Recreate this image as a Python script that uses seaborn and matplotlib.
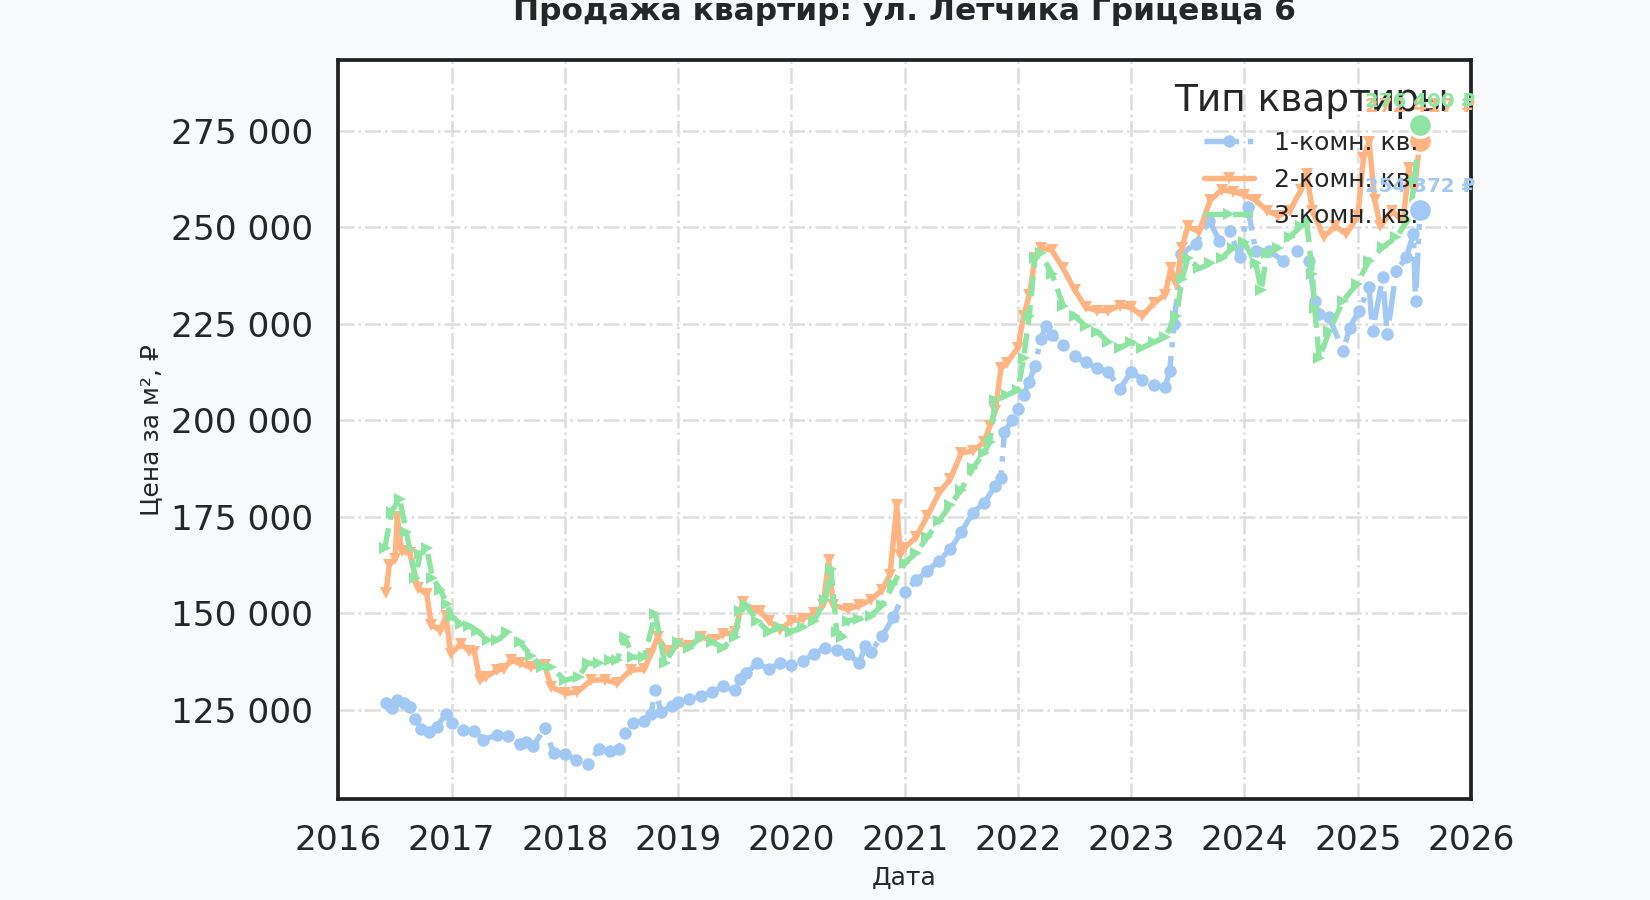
import pandas as pd
import numpy as np
import matplotlib.pyplot as plt
import matplotlib.dates as mdates
from matplotlib.ticker import FuncFormatter
import seaborn as sns

# values (decimal year, price per m2)
one_room_t = [2016.42, 2016.47, 2016.52, 2016.58, 2016.63, 2016.68, 2016.73, 2016.8, 2016.87, 2016.95,
              2017.0, 2017.1, 2017.2, 2017.28, 2017.4, 2017.5, 2017.6, 2017.66, 2017.72, 2017.82,
              2017.9, 2018.0, 2018.1, 2018.2, 2018.3, 2018.4, 2018.48, 2018.53, 2018.6, 2018.7,
              2018.76, 2018.8, 2018.85, 2018.95, 2019.0, 2019.1, 2019.2, 2019.3, 2019.4, 2019.5,
              2019.55, 2019.6, 2019.7, 2019.8, 2019.9, 2020.0, 2020.1, 2020.2, 2020.3, 2020.4,
              2020.5, 2020.6, 2020.65, 2020.7, 2020.8, 2020.9, 2021.0, 2021.1, 2021.2, 2021.3,
              2021.4, 2021.5, 2021.6, 2021.7, 2021.8, 2021.85, 2021.88, 2021.95, 2022.0, 2022.05,
              2022.1, 2022.15, 2022.2, 2022.25, 2022.3, 2022.4, 2022.5, 2022.6, 2022.7, 2022.8,
              2022.9, 2023.0, 2023.1, 2023.2, 2023.3, 2023.34, 2023.38, 2023.44, 2023.57, 2023.69,
              2023.78, 2023.87, 2023.96, 2024.03, 2024.1, 2024.22, 2024.34, 2024.46, 2024.57, 2024.62,
              2024.66, 2024.75, 2024.87, 2024.93, 2025.01, 2025.1, 2025.13, 2025.22, 2025.26, 2025.34,
              2025.43, 2025.49, 2025.51, 2025.55]
one_room = [126600, 125500, 127500, 126800, 125800, 122500, 120000, 119300, 120600, 124000,
            121500, 119800, 119500, 117200, 118500, 118200, 116000, 116500, 115500, 120200,
            113800, 113500, 112000, 111000, 114700, 114200, 114700, 119000, 121500, 122000,
            124000, 130000, 124500, 126000, 127000, 127800, 128500, 129500, 131000, 130000,
            133000, 134500, 137000, 135500, 137000, 136500, 137500, 139500, 141000, 140500,
            139500, 137000, 141500, 140000, 144000, 149000, 155500, 158500, 161000, 163500,
            166500, 171000, 176000, 178500, 183000, 185000, 197000, 200000, 203000, 206500,
            210000, 214000, 221000, 224500, 222000, 219500, 216500, 215000, 213500, 212500,
            208000, 212500, 210500, 209000, 208500, 212700, 224800, 243000, 245700, 251700,
            246500, 249100, 242200, 255200, 243900, 243900, 241300, 243900, 241300, 230900,
            227400, 226600, 217900, 224000, 228300, 234400, 223100, 237000, 222200, 238700,
            242200, 248300, 230900, 254372]

two_room_t = [2016.42, 2016.45, 2016.5, 2016.52, 2016.56, 2016.63, 2016.7, 2016.78, 2016.82, 2016.9,
              2016.95, 2016.99, 2017.08, 2017.15, 2017.2, 2017.25, 2017.3, 2017.4, 2017.46, 2017.52,
              2017.6, 2017.7, 2017.82, 2017.88, 2018.0, 2018.11, 2018.23, 2018.35, 2018.46, 2018.58,
              2018.7, 2018.76, 2018.82, 2018.9, 2019.0, 2019.1, 2019.2, 2019.3, 2019.4, 2019.5,
              2019.57, 2019.65, 2019.72, 2019.8, 2019.9, 2020.0, 2020.1, 2020.2, 2020.28, 2020.33,
              2020.37, 2020.5, 2020.6, 2020.7, 2020.8, 2020.87, 2020.93, 2020.96, 2021.0, 2021.1,
              2021.2, 2021.3, 2021.4, 2021.5, 2021.6, 2021.7, 2021.75, 2021.8, 2021.85, 2021.9,
              2022.0, 2022.05, 2022.1, 2022.15, 2022.2, 2022.3, 2022.4, 2022.5, 2022.6, 2022.7,
              2022.8, 2022.9, 2023.0, 2023.1, 2023.2, 2023.3, 2023.35, 2023.4, 2023.45, 2023.5,
              2023.6, 2023.7, 2023.8, 2023.9, 2024.0, 2024.1, 2024.2, 2024.3, 2024.4, 2024.5,
              2024.55, 2024.6, 2024.7, 2024.8, 2024.9, 2025.0, 2025.05, 2025.1, 2025.15, 2025.2,
              2025.3, 2025.4, 2025.45, 2025.5, 2025.55]
two_room = [155300, 162600, 164000, 175000, 166000, 165500, 156600, 154900, 147000, 145500,
            149300, 139500, 142000, 140300, 140000, 132600, 133500, 135200, 135500, 137800,
            137000, 136000, 136500, 130900, 129200, 129600, 132600, 132800, 131800, 135200,
            135500, 139500, 143800, 140300, 142000, 141500, 143800, 143000, 144600, 145000,
            153000, 150600, 150600, 148000, 145700, 148000, 148500, 150000, 152000, 163800,
            152000, 151000, 152000, 153400, 156000, 160000, 178000, 165000, 167000, 169700,
            175200, 181000, 184700, 191500, 192000, 194300, 198400, 202400, 213400, 214700,
            218800, 227000, 232400, 242000, 244700, 244000, 239300, 233800, 229200, 228400,
            228400, 229700, 229200, 227000, 230300, 232500, 239300, 235200, 244700, 250200,
            248800, 257000, 259700, 259200, 258400, 257000, 254300, 252900, 254300, 259700,
            263800, 254300, 247500, 250200, 248300, 252900, 268000, 272000, 257000, 250200,
            254300, 251500, 265200, 259700, 272417]

three_room_t = [2016.41, 2016.47, 2016.54, 2016.6, 2016.68, 2016.72, 2016.78, 2016.83, 2016.9, 2016.96,
                2017.0, 2017.08, 2017.15, 2017.22, 2017.32, 2017.4, 2017.49, 2017.6, 2017.7, 2017.8,
                2017.88, 2018.0, 2018.12, 2018.2, 2018.3, 2018.4, 2018.46, 2018.53, 2018.6, 2018.7,
                2018.8, 2018.88, 2019.0, 2019.1, 2019.2, 2019.3, 2019.4, 2019.5, 2019.55, 2019.6,
                2019.7, 2019.8, 2019.9, 2020.0, 2020.1, 2020.2, 2020.3, 2020.35, 2020.4, 2020.45,
                2020.5, 2020.6, 2020.7, 2020.8, 2020.9, 2021.0, 2021.1, 2021.2, 2021.3, 2021.4,
                2021.5, 2021.6, 2021.7, 2021.75, 2021.8, 2021.9, 2022.0, 2022.05, 2022.1, 2022.15,
                2022.2, 2022.3, 2022.4, 2022.5, 2022.6, 2022.7, 2022.8, 2022.9, 2023.0, 2023.1,
                2023.2, 2023.3, 2023.4, 2023.45, 2023.5, 2023.6, 2023.7, 2023.8, 2023.9, 2024.0,
                2024.1, 2024.15, 2024.2, 2024.3, 2024.4, 2024.5, 2024.55, 2024.6, 2024.62, 2024.66,
                2024.75, 2024.87, 2024.99, 2025.1, 2025.22, 2025.34, 2025.46, 2025.5, 2025.55]
three_room = [166900, 176300, 179700, 171000, 159200, 165200, 166900, 159200, 156000, 152300,
              149000, 147200, 146800, 145500, 143000, 143000, 145000, 142500, 139000, 136000,
              136000, 132600, 133500, 137000, 137000, 137800, 137800, 143800, 138600, 138600,
              149800, 137000, 142500, 141100, 143800, 142500, 141100, 143800, 150600, 152000,
              148000, 145200, 146500, 145200, 146500, 148000, 153400, 161500, 145200, 143800,
              148000, 148500, 149300, 152000, 157500, 163000, 165600, 169700, 173800, 177900,
              182000, 187500, 191500, 194300, 205200, 206500, 207900, 216100, 227000, 242000,
              243400, 237900, 229700, 227000, 224300, 222900, 220200, 218800, 220200, 218800,
              220200, 221500, 227000, 236500, 242000, 239300, 240600, 242000, 244700, 246100,
              240600, 233800, 243400, 244700, 247500, 250200, 251500, 237900, 229000, 216100,
              223100, 230900, 235200, 241300, 244800, 247400, 252600, 262000, 276400]

labels = ['1-комн. кв.', '2-комн. кв.', '3-комн. кв.']


def to_date(y):
    year = int(y)
    start = pd.Timestamp(year, 1, 1)
    return start + (y - year) * (pd.Timestamp(year + 1, 1, 1) - start)


sns.set_theme(style="whitegrid", context="talk", palette="pastel")
plt.rcParams['font.family'] = ['DejaVu Sans']

colors = sns.color_palette("pastel")[:3]
series = [(one_room_t, one_room, '-.', 'o'),
          (two_room_t, two_room, '-', 'v'),
          (three_room_t, three_room, '--', '>')]

fig, ax = plt.subplots(figsize=(11, 6), dpi=150)
fig.patch.set_facecolor('#f8f9fa')
ax.set_facecolor('white')
fig.subplots_adjust(left=0.205, right=0.8915, bottom=0.112, top=0.9333)

for (ts, vals, ls, mk), lab, col in zip(series, labels, colors):
    df = pd.DataFrame({'date': [to_date(t) for t in ts], 'price': vals})
    sns.lineplot(data=df, x='date', y='price', ax=ax, color=col, linestyle=ls,
                 marker=mk, markersize=6, markeredgewidth=0, linewidth=2.6, label=lab)

# end-point dots with value labels
for (ts, vals, ls, mk), col, dy in zip(series, colors, [7, 12, 7]):
    d = to_date(ts[-1])
    ax.scatter([d], [vals[-1]], s=130, color=col, edgecolor='white', linewidth=1.5, zorder=5)
    ax.annotate(f"{vals[-1]:,.0f} ₽".replace(',', ' '), xy=(d, vals[-1]), xytext=(0, dy),
                textcoords='offset points', ha='center', va='bottom',
                fontsize=9.5, fontweight='bold', color=col, zorder=6)

ax.set_xlim(pd.Timestamp(2016, 1, 1), pd.Timestamp(2026, 1, 1))
ax.set_ylim(101800, 293300)
ax.xaxis.set_major_locator(mdates.YearLocator())
ax.xaxis.set_major_formatter(mdates.DateFormatter('%Y'))
ax.yaxis.set_major_formatter(FuncFormatter(lambda v, p: f"{v:,.0f}".replace(',', ' ')))
ax.tick_params(axis='both', labelsize=16.5, pad=12, length=0)

ax.grid(True, linestyle='-.', color='#dddddd', linewidth=1.2)
for s in ax.spines.values():
    s.set_visible(True)
    s.set_color('#222222')
    s.set_linewidth(1.8)

ax.set_title('Продажа квартир: ул. Летчика Грицевца 6', fontsize=15, fontweight='bold', pad=19)
ax.set_xlabel('Дата', fontsize=12)
ax.set_ylabel('Цена за м², ₽', fontsize=12)

ax.legend(title='Тип квартиры', loc='upper right', fontsize=12, title_fontsize=18, frameon=False)

plt.savefig('out.png', dpi=150, facecolor=fig.get_facecolor())
plt.close()
